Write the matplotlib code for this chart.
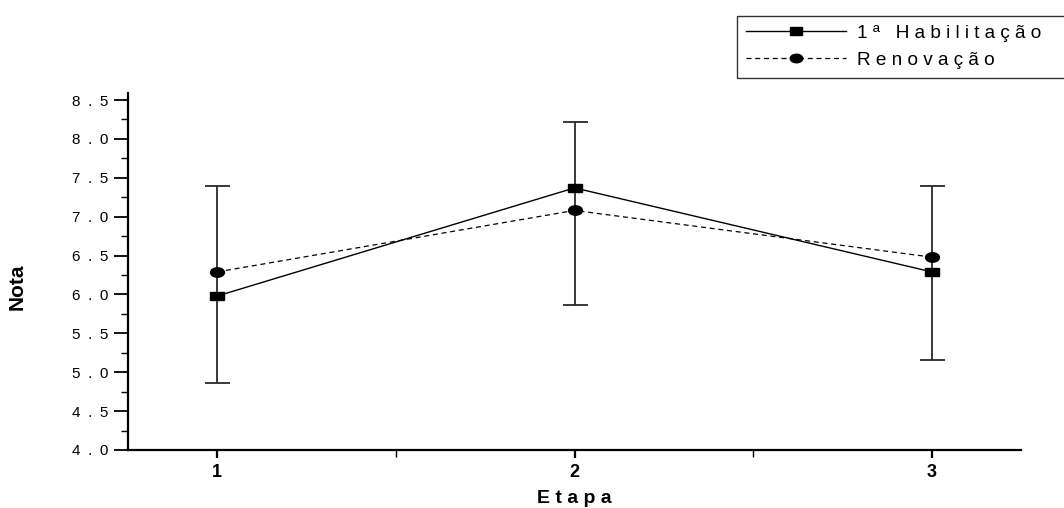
import matplotlib
matplotlib.use('Agg')
import matplotlib.pyplot as plt
from matplotlib.markers import MarkerStyle
from matplotlib.transforms import Affine2D
from matplotlib.ticker import MultipleLocator, FixedLocator

etapas = [1, 2, 3]
habilitacao = [5.98, 7.37, 6.29]
renovacao = [6.29, 7.08, 6.48]
# error bar extents
err_low = [4.86, 5.87, 5.16]
err_high = [7.39, 8.22, 7.39]
yticks = [4.0, 4.5, 5.0, 5.5, 6.0, 6.5, 7.0, 7.5, 8.0, 8.5]


def spaced(s, sep=' '):
    return sep.join(s)


plt.rcParams['font.family'] = ['Liberation Sans', 'DejaVu Sans']

fig = plt.figure(figsize=(10.64, 5.08), dpi=100)
ax = fig.add_axes([0.1203, 0.1142, 0.8393, 0.7027])

sq = MarkerStyle('s', transform=Affine2D().scale(1.0, 0.6))
circ = MarkerStyle('o', transform=Affine2D().scale(1.0, 0.68))

center = [(lo + hi) / 2 for lo, hi in zip(err_low, err_high)]
yerr = [[c - lo for c, lo in zip(center, err_low)],
        [hi - c for c, hi in zip(center, err_high)]]
ax.errorbar(etapas, center, yerr=yerr, fmt='none', ecolor='#2a2a2a',
            elinewidth=1.3, capsize=9, capthick=1.3, zorder=1)

ax.plot(etapas, habilitacao, color='black', lw=1.0, marker=sq, ms=10,
        label=spaced('1ª Habilitação') + '      ', zorder=3)
ax.plot(etapas, renovacao, color='black', lw=0.9, ls=(0, (4, 3)), marker=circ,
        ms=10, label=spaced('Renovação'), zorder=3)

ax.set_xlim(0.75, 3.25)
ax.set_ylim(4.0, 8.59)
ax.spines['top'].set_visible(False)
ax.spines['right'].set_visible(False)
ax.spines['left'].set_linewidth(1.6)
ax.spines['bottom'].set_linewidth(1.6)

ax.set_xticks(etapas)
ax.set_xticklabels([str(e) for e in etapas], fontweight='bold', fontsize=13)
ax.xaxis.set_minor_locator(FixedLocator([1.5, 2.5]))
ax.set_yticks(yticks)
ax.set_yticklabels([spaced(f'{v:.1f}', '\u2002') for v in yticks], fontsize=11)
ax.yaxis.set_minor_locator(MultipleLocator(0.25))
ax.tick_params(axis='y', which='major', direction='out', length=10, width=1.3,
               color='black', pad=4)
ax.tick_params(axis='x', which='major', direction='out', length=6, width=1.6,
               color='black', pad=4)
ax.tick_params(axis='both', which='minor', direction='out', length=5, width=1.0)

ax.set_xlabel(spaced('Etapa'), fontweight='bold', fontsize=14, va='center')
ax.xaxis.set_label_coords(0.5, -0.136)
ax.set_ylabel('Nota', fontweight='bold', fontsize=15, va='center')
ax.yaxis.set_label_coords(-0.124, 0.457)

leg = fig.legend(loc='upper left', bbox_to_anchor=(0.6927, 0.968), fontsize=13.7,
                 frameon=True, fancybox=False, edgecolor='black',
                 handlelength=5.3, handletextpad=0.55, borderpad=0.45,
                 labelspacing=0.5, borderaxespad=0, markerscale=0.9)
leg.get_frame().set_linewidth(1.0)

plt.savefig('out.png', dpi=100)
